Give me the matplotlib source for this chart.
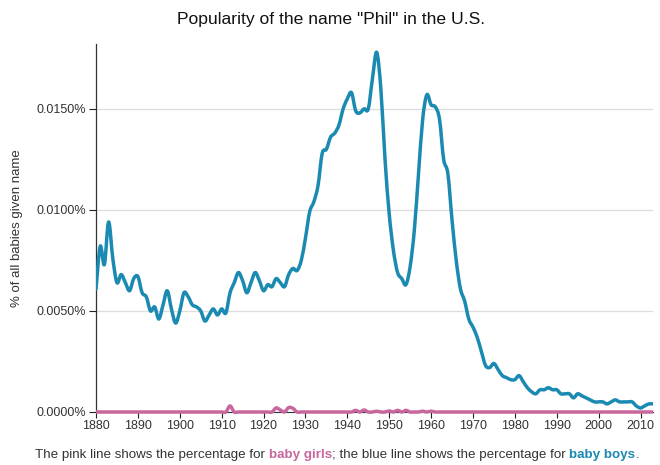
import matplotlib

matplotlib.use("Agg")
import matplotlib.pyplot as plt
import numpy as np
from matplotlib.patches import PathPatch
from matplotlib.path import Path

plt.rcParams.update(
    {
        "font.family": ["Liberation Sans", "DejaVu Sans"],
        "font.size": 9,
    }
)

BLUE, PINK, TEXT = "#1b8ab2", "#c8679d", "#333333"

# ── Data (percent of all babies) ─────────────────────────────────────────────
years = list(range(1880, 2014))

boys = [
    0.0061, 0.0082, 0.0073, 0.0094, 0.0076, 0.0064, 0.0068, 0.0064, 0.0060, 0.0066,  # 1880s
    0.0067, 0.0059, 0.0057, 0.0050, 0.0052, 0.0046, 0.0053, 0.0060, 0.0051, 0.0044,  # 1890s
    0.0050, 0.0059, 0.0057, 0.0053, 0.0052, 0.0050, 0.0045, 0.0048, 0.0051, 0.0048,  # 1900s
    0.0051, 0.0049, 0.0059, 0.0064, 0.0069, 0.0065, 0.0059, 0.0064, 0.0069, 0.0065,  # 1910s
    0.0060, 0.0063, 0.0062, 0.0066, 0.0064, 0.0062, 0.0068, 0.0071, 0.0070, 0.0075,  # 1920s
    0.0086, 0.0099, 0.0104, 0.0112, 0.0128, 0.0130, 0.0136, 0.0138, 0.0142, 0.0150,  # 1930s
    0.0155, 0.0158, 0.0149, 0.0148, 0.0150, 0.0150, 0.0165, 0.0178, 0.0160, 0.0125,  # 1940s
    0.0098, 0.0080, 0.0069, 0.0066, 0.0063, 0.0072, 0.0090, 0.0118, 0.0145, 0.0157,  # 1950s
    0.0152, 0.0151, 0.0145, 0.0125, 0.0118, 0.0095, 0.0075, 0.0061, 0.0055, 0.0046,  # 1960s
    0.0042, 0.0037, 0.0030, 0.0023, 0.0022, 0.0024, 0.0021, 0.0018, 0.0017, 0.0016,  # 1970s
    0.0016, 0.0018, 0.0015, 0.0012, 0.0010, 0.0009, 0.0011, 0.0011, 0.0012, 0.0011,  # 1980s
    0.0011, 0.0009, 0.0009, 0.0009, 0.0007, 0.0009, 0.0008, 0.0007, 0.0006, 0.0005,  # 1990s
    0.0005, 0.0005, 0.0004, 0.0005, 0.0006, 0.0005, 0.0005, 0.0005, 0.0005, 0.0003,  # 2000s
    0.0002, 0.0003, 0.0004, 0.0004,                                                  # 2010s
]

# girls: zero except these years
girls_nonzero = {
    1912: 0.00030, 1923: 0.00020, 1924: 0.00010, 1926: 0.00022, 1927: 0.00018,
    1942: 0.00008, 1944: 0.00010, 1947: 0.00004, 1950: 0.00005, 1952: 0.00008,
    1954: 0.00008, 1958: 0.00004, 1960: 0.00004,
}
girls = [girls_nonzero.get(y, 0.0) for y in years]

x_tick_years = list(range(1880, 2011, 10))
x_grid_years = list(range(1900, 2001, 20))
y_ticks = [0.0, 0.005, 0.010, 0.015]


def smooth_path(xs, ys):
    """Cardinal (Catmull-Rom) curve through the points as cubic Bezier segments."""
    xs = np.asarray(xs, float)
    ys = np.asarray(ys, float)
    pts = np.column_stack([xs, ys])
    padded = np.vstack([pts[0], pts, pts[-1]])
    verts = [pts[0]]
    codes = [Path.MOVETO]
    for i in range(len(pts) - 1):
        p0, p1, p2, p3 = padded[i], padded[i + 1], padded[i + 2], padded[i + 3]
        c1 = p1 + (p2 - p0) / 6.0
        c2 = p2 - (p3 - p1) / 6.0
        verts += [c1, c2, p2]
        codes += [Path.CURVE4] * 3
    return Path(verts, codes)


# ── Plot ─────────────────────────────────────────────────────────────────────
fig = plt.figure(figsize=(6.6, 4.65), dpi=100)
ax = fig.add_axes([0.1455, 0.114, 0.844, 0.791])

ax.add_patch(PathPatch(smooth_path(years, boys), facecolor="none", edgecolor=BLUE,
                       lw=2.5, joinstyle="round", capstyle="round", zorder=3))
ax.add_patch(PathPatch(smooth_path(years, girls), facecolor="none", edgecolor=PINK,
                       lw=2.5, joinstyle="round", zorder=4, clip_on=False))

ax.set_xlim(1880, 2013)
ax.set_ylim(0, 0.0182)

ax.set_xticks(x_tick_years)
ax.set_xticklabels([str(y) for y in x_tick_years])
ax.set_xticks(x_grid_years, minor=True)
ax.set_yticks(y_ticks)
ax.set_yticklabels([f"{v:.4f}%" for v in y_ticks])

ax.grid(axis="x", which="minor", color="#dddddd", lw=0.9)
ax.grid(axis="y", which="major", color="#dddddd", lw=0.9)
ax.set_axisbelow(True)

ax.tick_params(axis="x", which="minor", length=0)
ax.tick_params(axis="x", which="major", length=4, width=0.8, color="#222222", pad=2,
               labelsize=9, labelcolor=TEXT)
ax.tick_params(axis="y", length=5, width=0.8, color="#222222", pad=2,
               labelsize=9, labelcolor=TEXT)

for side in ("top", "right"):
    ax.spines[side].set_visible(False)
ax.spines["left"].set_color("#333333")
ax.spines["left"].set_linewidth(0.9)
ax.spines["bottom"].set_color("#333333")

ax.set_ylabel("% of all babies given name", fontsize=9.5, color=TEXT, labelpad=10)

fig.text(0.502, 0.958, 'Popularity of the name "Phil" in the U.S.',
         ha="center", va="center", fontsize=12.6, color="#111111")

# caption with coloured words
pieces = [
    ("The pink line shows the percentage for ", TEXT, "normal"),
    ("baby girls", PINK, "bold"),
    ("; the blue line shows the percentage for ", TEXT, "normal"),
    ("baby boys", BLUE, "bold"),
    (".", TEXT, "normal"),
]
renderer = fig.canvas.get_renderer()
texts = []
for s, c, w in pieces:
    t = fig.text(0, 0.022, s, color=c, fontweight=w, fontsize=9.6, ha="left", va="center")
    texts.append(t)
widths = [t.get_window_extent(renderer).width for t in texts]
total = sum(widths)
start = (fig.bbox.width - total) / 2 + 7
for t, w in zip(texts, widths):
    t.set_x(start / fig.bbox.width)
    start += w

fig.savefig("out.png", dpi=100)
